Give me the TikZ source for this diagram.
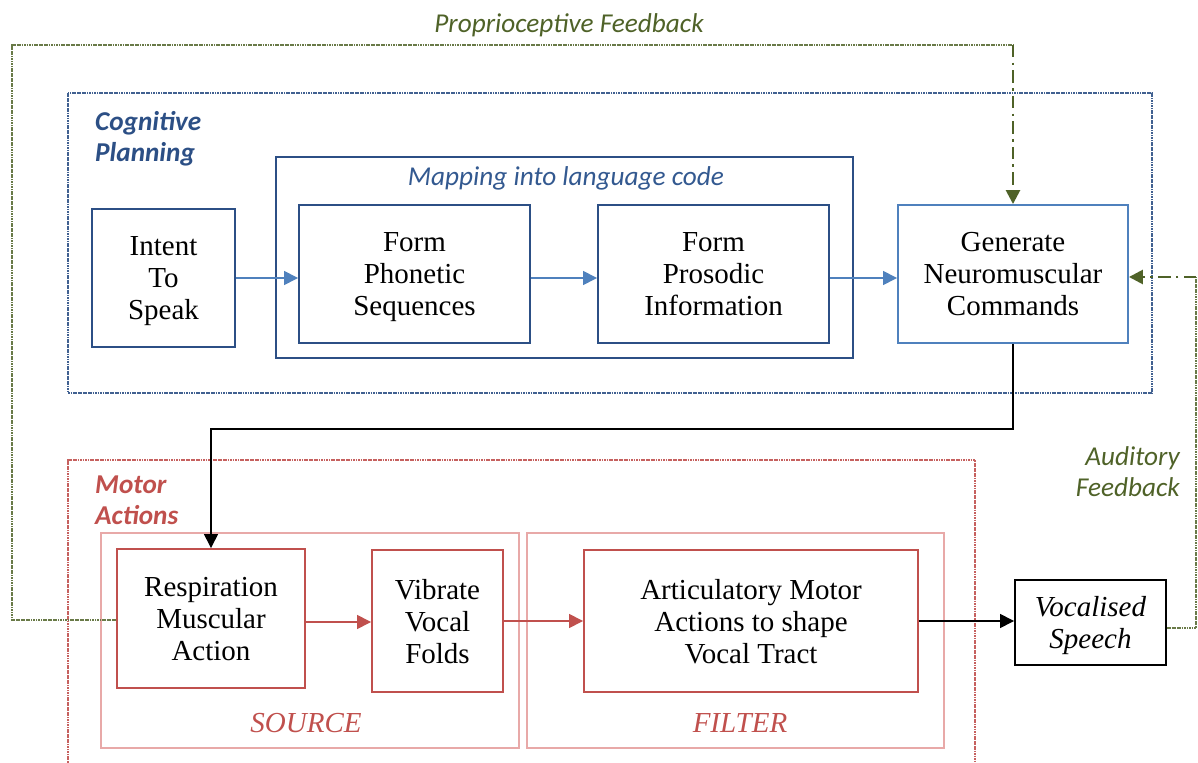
\documentclass[tikz,border=0pt]{standalone}
\usepackage{fontspec}
\setmainfont{Liberation Serif}
\newfontfamily\lblfont{Carlito}
\usetikzlibrary{arrows.meta,calc}

\definecolor{cogblue}{HTML}{2C4F85}
\definecolor{genblue}{HTML}{4F81BD}
\definecolor{motred}{HTML}{C0504D}
\definecolor{srcred}{HTML}{E8A9A8}
\definecolor{fbgreen}{HTML}{4F6228}

\tikzset{
	stepbox/.style={draw, line width=1.1pt, align=center, inner sep=0pt, text depth=0pt, font=\fontsize{16.5}{18.2}\selectfont},
	grouplbl/.style={font=\lblfont\bfseries\itshape\fontsize{15.5}{18}\selectfont, align=left},
	fblbl/.style={font=\lblfont\itshape\fontsize{15.5}{18}\selectfont, color=fbgreen},
	fbdot/.style={line width=1.5pt, color=fbgreen!85, dash pattern=on 1pt off 0.4pt},
	fbdash/.style={line width=1.5pt, color=fbgreen, dash pattern=on 7pt off 3pt on 1.5pt off 3pt},
	tip/.style={-{Triangle[length=0.28cm,width=0.28cm]}}
}

\begin{document}
\begin{tikzpicture}[x=0.02cm, y=-0.02cm]
		%%%%% START %%%%%
		\useasboundingbox (0,0) rectangle (1198,763);
		
		% cognitive planning
		\draw[line width=1.5pt, color=cogblue!90, dash pattern=on 1pt off 0.4pt] (68,93) rectangle (1152,393);
		\node[grouplbl, color=cogblue, anchor=base west] (coglbl) at (89,162) {Cognitive\\Planning};
		\node[draw=cogblue, line width=1.4pt, minimum width=11.54cm, minimum height=4.02cm] (mapping) at (564.5,257.5) {};
		\node[font=\lblfont\itshape\fontsize{15.5}{18}\selectfont, color=cogblue!80!genblue, anchor=base] (maplbl) at (566,186) {Mapping into language code};
		
		\node[stepbox, draw=cogblue, minimum width=2.86cm, minimum height=2.76cm] (intent) at (163.5,278) {Intent\\To\\Speak};
		\node[stepbox, draw=cogblue, minimum width=4.62cm, minimum height=2.76cm] (phon) at (414.5,274) {Form\\Phonetic\\Sequences};
		\node[stepbox, draw=cogblue, minimum width=4.62cm, minimum height=2.76cm] (pros) at (713.5,274) {Form\\Prosodic\\Information};
		\node[stepbox, draw=genblue, minimum width=4.6cm, minimum height=2.76cm] (gen) at (1013,274) {Generate\\Neuromuscular\\Commands};
		
		\draw[tip, line width=0.8pt, color=genblue] (intent.east |- 0,278) -- (phon.west |- 0,278);
		\draw[tip, line width=0.8pt, color=genblue] (phon.east |- 0,278) -- (pros.west |- 0,278);
		\draw[tip, line width=0.8pt, color=genblue] (pros.east |- 0,278) -- (gen.west |- 0,278);
		
		% motor actions
		\draw[line width=1.5pt, color=motred!90, dash pattern=on 1pt off 0.4pt] (68,775) -- (68,460) -- (975,460) -- (975,775);
		\node[grouplbl, color=motred, anchor=base west] (motlbl) at (89,525) {Motor\\Actions};
		\draw[line width=0.6pt, color=srcred] (101,533) rectangle (519,748);
		\draw[line width=0.6pt, color=srcred] (527,533) rectangle (944,748);
		\node[font=\itshape\fontsize{16.5}{18}\selectfont, color=motred, anchor=base] (srclbl) at (306,732) {SOURCE};
		\node[font=\itshape\fontsize{16.5}{18}\selectfont, color=motred, anchor=base] (fltlbl) at (740,732) {FILTER};
		
		\node[stepbox, draw=motred, minimum width=3.76cm, minimum height=2.78cm] (resp) at (211,618.5) {Respiration\\Muscular\\Action};
		\node[stepbox, draw=motred, minimum width=2.62cm, minimum height=2.84cm] (vib) at (437.5,621) {Vibrate\\Vocal\\Folds};
		\node[stepbox, draw=motred, minimum width=6.68cm, minimum height=2.84cm] (artic) at (751,621) {Articulatory Motor\\Actions to shape\\Vocal Tract};
		\node[stepbox, draw=black, minimum width=3.02cm, minimum height=1.7cm, font=\itshape\fontsize{16.5}{18.2}\selectfont] (voc) at (1090.5,622.5) {Vocalised\\Speech};
		
		\draw[tip, line width=0.8pt, color=motred] (resp.east |- 0,622) -- (vib.west |- 0,622);
		\draw[tip, line width=0.8pt, color=motred] (vib.east |- 0,621) -- (artic.west |- 0,621);
		\draw[tip, line width=0.8pt] (artic.east |- 0,621) -- (voc.west |- 0,621);
		
		% command path
		\draw[tip, line width=0.8pt] (gen.south) -- ++(0,85) -| (resp.north);
		
		% feedback
		\coordinate (pk) at (gen.north |- 0,45);
		\coordinate (ak) at (1196,277);
		\draw[fbdot] (resp.west |- 0,620) -- (12,620) -- (12,45) -- (pk);
		\draw[fbdash, tip] (pk) -- (gen.north);
		\node[fblbl, anchor=base] (proplbl) at (569,33) {Proprioceptive Feedback};
		\draw[fbdot] (voc.east |- 0,628) -| (ak);
		\draw[fbdash, tip] (ak) -- (gen.east |- ak);
		\node[fblbl, align=right, anchor=base east] (audlbl) at (1186,497) {Auditory\\Feedback};
		
		%%%%% END %%%%%
\end{tikzpicture}
\end{document}
